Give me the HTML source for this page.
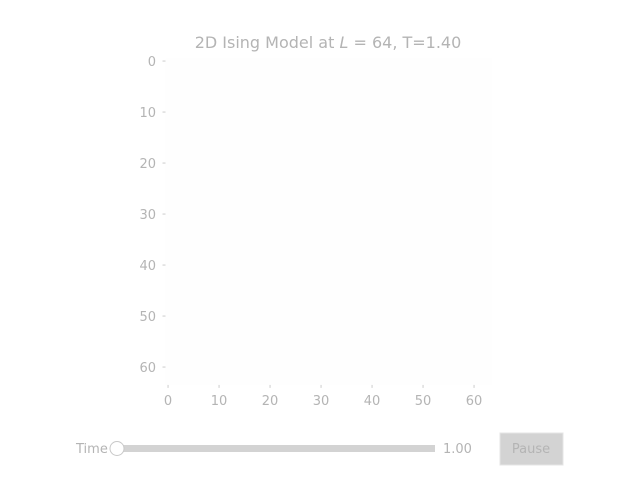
<!DOCTYPE html>
<html><head><meta charset="utf-8"><style>
body{margin:0;background:#fff;width:640px;height:480px;overflow:hidden;font-family:"Liberation Sans","DejaVu Sans",sans-serif}
svg text{fill:#b4b4b4;font-family:"DejaVu Sans","Liberation Sans",sans-serif}
</style></head><body>
<svg width="640" height="480">
<g id="plot"></g>
<text x="328" y="48" text-anchor="middle" font-size="16">2D Ising Model at <tspan font-style="italic">L</tspan> = 64, T=1.40</text>
<g id="axes"></g>
<text x="76" y="453" font-size="13">Time</text>
<rect x="118" y="445" width="317" height="7" fill="#d3d3d3"/>
<circle cx="117" cy="448.5" r="7" fill="#fff" stroke="#c8c8c8"/>
<text x="443" y="453" font-size="13">1.00</text>
<rect x="500" y="433" width="63" height="32" fill="#d3d3d3" stroke="#e4e4e4"/>
<text x="531" y="453" font-size="13" text-anchor="middle" fill="#999">Pause</text>
</svg>
<script>
const L = 64;
const xTicks = [0,10,20,30,40,50,60];
const yTicks = [0,10,20,30,40,50,60];
const spinUpFraction = [1.0];
const NS="http://www.w3.org/2000/svg";
const x0=165.5, y0=58.5, cell=5.1;
const sx=v=>x0+(v+0.5)*cell, sy=v=>y0+(v+0.5)*cell;
const plot=document.getElementById('plot'), axes=document.getElementById('axes');
const bg=document.createElementNS(NS,'rect');
bg.setAttribute('x',x0);bg.setAttribute('y',y0);bg.setAttribute('width',L*cell);bg.setAttribute('height',L*cell);
bg.setAttribute('fill',spinUpFraction[0]>0.5?'#fefefe':'#f4f4f4');


plot.appendChild(bg);
xTicks.forEach(t=>{
 const tk=document.createElementNS(NS,'line');
 tk.setAttribute('x1',sx(t));tk.setAttribute('x2',sx(t));tk.setAttribute('y1',y0+L*cell);tk.setAttribute('y2',y0+L*cell+3);tk.setAttribute('stroke','#ccc');
 
 
 axes.appendChild(tk);
 const tx=document.createElementNS(NS,'text');
 tx.setAttribute('x',sx(t));tx.setAttribute('y',405);tx.setAttribute('text-anchor','middle');tx.setAttribute('font-size','13');tx.textContent=t;
 
 
 axes.appendChild(tx);
});
yTicks.forEach(t=>{
 const tk=document.createElementNS(NS,'line');
 tk.setAttribute('x1',x0-3);tk.setAttribute('x2',x0);tk.setAttribute('y1',sy(t));tk.setAttribute('y2',sy(t));tk.setAttribute('stroke','#ccc');
 
 
 axes.appendChild(tk);
 const tx=document.createElementNS(NS,'text');
 tx.setAttribute('x',156);tx.setAttribute('y',sy(t)+5);tx.setAttribute('text-anchor','end');tx.setAttribute('font-size','13');tx.textContent=t;
 
 
 axes.appendChild(tx);
});
</script>
</body></html>
